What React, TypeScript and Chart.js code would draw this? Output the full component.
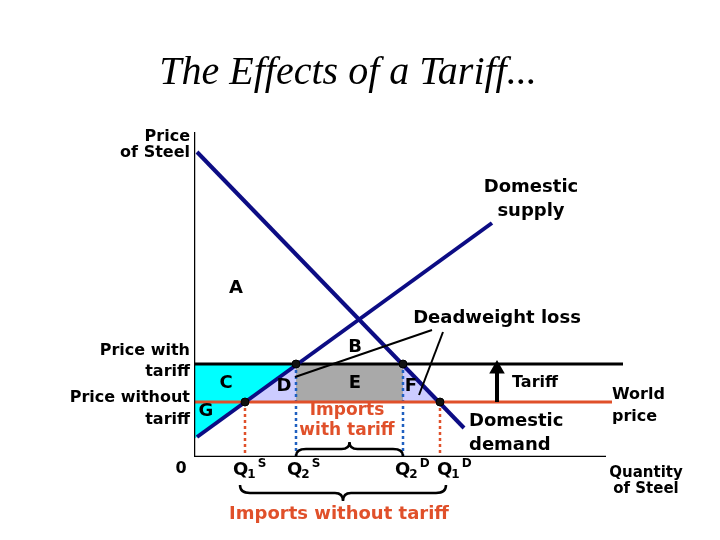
import React, { useEffect, useRef } from "react";
import { Chart, registerables } from "chart.js";

Chart.register(...registerables);

// ---- data (quantity units on x, price units on y) ----
const demandCurve = [{ x: 3, y: 305 }, { x: 270, y: 29 }];
const supplyCurve = [{ x: 3, y: 20 }, { x: 298, y: 234 }];
const priceWithTariff = 93;
const worldPrice = 55;
const tariffLine = [{ x: 0, y: priceWithTariff }, { x: 429, y: priceWithTariff }];
const worldLine = [{ x: 0, y: worldPrice }, { x: 418, y: worldPrice }];
const xAxisLine = [{ x: 0, y: 0 }, { x: 412, y: 0 }];
const yAxisLine = [{ x: 0, y: 0 }, { x: 0, y: 325 }];
const q1S = 51;
const q2S = 102;
const q2D = 209;
const q1D = 246;
const areaCG = [{ x: 0, y: priceWithTariff }, { x: q2S, y: priceWithTariff }, { x: 3, y: 20 }, { x: 0, y: 18 }];
const areaD = [{ x: q1S, y: worldPrice }, { x: q2S, y: priceWithTariff }, { x: q2S, y: worldPrice }];
const areaE = [{ x: q2S, y: worldPrice }, { x: q2S, y: priceWithTariff }, { x: q2D, y: priceWithTariff }, { x: q2D, y: worldPrice }];
const areaF = [{ x: q2D, y: priceWithTariff }, { x: q2D, y: worldPrice }, { x: q1D, y: worldPrice }];
const intersections = [
  { x: q1S, y: worldPrice },
  { x: q2S, y: priceWithTariff },
  { x: q2D, y: priceWithTariff },
  { x: q1D, y: worldPrice },
];
const dwlPointer1 = [{ x: 238, y: 127 }, { x: 101, y: 80 }];
const dwlPointer2 = [{ x: 249, y: 125 }, { x: 225, y: 62 }];
const tariffArrow = [{ x: 303, y: worldPrice }, { x: 303, y: 88 }];

const NAVY = "#0c0c84";
const ORANGE = "#e0502a";
const BLUE_DOT = "#1f5fc0";
const FONT = "'DejaVu Sans', Verdana, sans-serif";

type Lbl = { t: string; x: number; y: number; size: number; align?: CanvasTextAlign; color?: string };
const labels: Lbl[] = [
  { t: "Price", x: -4, y: 320, size: 16, align: "right" },
  { t: "of Steel", x: -4, y: 304, size: 16, align: "right" },
  { t: "Domestic", x: 337, y: 270, size: 18 },
  { t: "supply", x: 337, y: 246, size: 18 },
  { t: "A", x: 42, y: 169, size: 18 },
  { t: "Deadweight loss", x: 303, y: 139, size: 18 },
  { t: "B", x: 161, y: 110, size: 18 },
  { t: "C", x: 32, y: 74, size: 18 },
  { t: "D", x: 90, y: 71, size: 18 },
  { t: "E", x: 161, y: 74, size: 18 },
  { t: "F", x: 217, y: 71, size: 18 },
  { t: "G", x: 12, y: 46, size: 18 },
  { t: "Price with", x: -4, y: 106, size: 16, align: "right" },
  { t: "tariff", x: -4, y: 85, size: 16, align: "right" },
  { t: "Price without", x: -4, y: 59, size: 16, align: "right" },
  { t: "tariff", x: -4, y: 37, size: 16, align: "right" },
  { t: "0", x: -13, y: -12, size: 16 },
  { t: "Imports", x: 153, y: 46, size: 17, color: ORANGE },
  { t: "with tariff", x: 153, y: 26, size: 17, color: ORANGE },
  { t: "Imports without tariff", x: 145, y: -57, size: 18, color: ORANGE },
  { t: "Tariff", x: 341, y: 74, size: 16 },
  { t: "Domestic", x: 275, y: 36, size: 18, align: "left" },
  { t: "demand", x: 275, y: 12, size: 18, align: "left" },
  { t: "World", x: 418, y: 62, size: 16, align: "left" },
  { t: "price", x: 418, y: 40, size: 16, align: "left" },
  { t: "Quantity", x: 452, y: -16, size: 15 },
  { t: "of Steel", x: 452, y: -32, size: 15 },
];
const qLabels = [
  { sub: "1", sup: "S", x: 39 },
  { sub: "2", sup: "S", x: 93 },
  { sub: "2", sup: "D", x: 201 },
  { sub: "1", sup: "D", x: 243 },
];
const braces = [
  { x1: q2S, x2: q2D, y: 1, dir: 1, h: 7 },
  { x1: 46, x2: 252, y: -28, dir: -1, h: 8 },
];

const drawPlugin = {
  id: "drawText",
  afterDraw(chart: any) {
    const { ctx, scales } = chart;
    const X = (v: number) => scales.x.getPixelForValue(v);
    const Y = (v: number) => scales.y.getPixelForValue(v);
    ctx.save();
    // title
    ctx.fillStyle = "#000";
    ctx.font = "italic 40px 'Liberation Serif', 'Times New Roman', serif";
    ctx.textAlign = "center";
    ctx.textBaseline = "alphabetic";
    ctx.fillText("The Effects of a Tariff...", 348, 84);

    for (const l of labels) {
      ctx.font = `bold ${l.size}px ${FONT}`;
      ctx.fillStyle = l.color || "#000";
      ctx.textAlign = l.align || "center";
      ctx.textBaseline = "middle";
      ctx.fillText(l.t, X(l.x), Y(l.y));
    }
    // Q labels
    for (const q of qLabels) {
      let px = X(q.x);
      const py = Y(-13);
      ctx.fillStyle = "#000";
      ctx.textAlign = "left";
      ctx.textBaseline = "middle";
      ctx.font = `bold 18px ${FONT}`;
      ctx.fillText("Q", px, py);
      px += ctx.measureText("Q").width - 1;
      ctx.font = `bold 12px ${FONT}`;
      ctx.fillText(q.sub, px, py + 5);
      px += ctx.measureText(q.sub).width + 2;
      ctx.fillText(q.sup, px, py - 6);
    }
    // braces
    ctx.strokeStyle = "#000";
    ctx.lineWidth = 2.5;
    for (const b of braces) {
      const x1 = X(b.x1), x2 = X(b.x2), y0 = Y(b.y);
      const d = -b.dir; // pixel direction toward cusp
      const h = b.h;
      const xm = (x1 + x2) / 2;
      ctx.beginPath();
      ctx.moveTo(x1, y0);
      ctx.quadraticCurveTo(x1, y0 + d * h, x1 + 10, y0 + d * h);
      ctx.lineTo(xm - 8, y0 + d * h);
      ctx.quadraticCurveTo(xm, y0 + d * h, xm, y0 + d * h * 2);
      ctx.quadraticCurveTo(xm, y0 + d * h, xm + 8, y0 + d * h);
      ctx.lineTo(x2 - 10, y0 + d * h);
      ctx.quadraticCurveTo(x2, y0 + d * h, x2, y0);
      ctx.stroke();
    }
    ctx.restore();
  },
};

function lineDs(data: any[], color: string, width: number, order: number, dash: number[] = []) {
  return {
    data,
    showLine: true,
    borderColor: color,
    borderWidth: width,
    borderDash: dash,
    pointRadius: 0,
    fill: false,
    order,
  };
}
function areaDs(data: any[], color: string) {
  return {
    data: [...data, data[0]],
    showLine: true,
    borderWidth: 0,
    borderColor: "rgba(0,0,0,0)",
    backgroundColor: color,
    pointRadius: 0,
    fill: "shape",
    order: 20,
  };
}

export default function App() {
  const ref = useRef<HTMLCanvasElement>(null);
  useEffect(() => {
    if (!ref.current) return;
    const chart = new Chart(ref.current, {
      type: "scatter",
      data: {
        datasets: [
          areaDs(areaCG, "#00ffff"),
          areaDs(areaD, "#ccccff"),
          areaDs(areaE, "#a9a9a9"),
          areaDs(areaF, "#ccccff"),
          lineDs([{ x: q1S, y: worldPrice }, { x: q1S, y: 0 }], ORANGE, 2.5, 12, [3, 3]),
          lineDs([{ x: q1D, y: worldPrice }, { x: q1D, y: 0 }], ORANGE, 2.5, 12, [3, 3]),
          lineDs([{ x: q2S, y: priceWithTariff }, { x: q2S, y: 0 }], BLUE_DOT, 2.5, 12, [3, 3]),
          lineDs([{ x: q2D, y: priceWithTariff }, { x: q2D, y: 0 }], BLUE_DOT, 2.5, 12, [3, 3]),
          lineDs(worldLine, ORANGE, 3, 10),
          lineDs(tariffLine, "#000", 3, 10),
          lineDs(xAxisLine, "#000", 2.5, 9),
          lineDs(yAxisLine, "#000", 2.5, 9),
          lineDs(demandCurve, NAVY, 4, 8),
          lineDs(supplyCurve, NAVY, 4, 8),
          lineDs(dwlPointer1, "#000", 2, 7),
          lineDs(dwlPointer2, "#000", 2, 7),
          {
            ...lineDs(tariffArrow, "#000", 4, 7),
            pointRadius: [0, 5],
            pointStyle: "triangle",
            pointBackgroundColor: "#000",
            pointBorderColor: "#000",
          },
          {
            data: intersections,
            showLine: false,
            pointRadius: 4,
            pointBackgroundColor: "#111",
            pointBorderColor: "#000",
            order: 1,
          },
        ] as any,
      },
      options: {
        animation: false,
        responsive: true,
        maintainAspectRatio: false,
        events: [],
        layout: { padding: { left: 194, right: 76, top: 130, bottom: 83 } },
        scales: {
          x: { type: "linear", min: 0, max: 450, display: false },
          y: { type: "linear", min: 0, max: 327, display: false },
        },
        plugins: { legend: { display: false }, tooltip: { enabled: false }, title: { display: false } },
      } as any,
      plugins: [drawPlugin],
    });
    return () => chart.destroy();
  }, []);
  return (
    <div style={{ position: "absolute", left: 0, top: 0, width: 720, height: 540, background: "#fff" }}>
      <canvas ref={ref} />
    </div>
  );
}
